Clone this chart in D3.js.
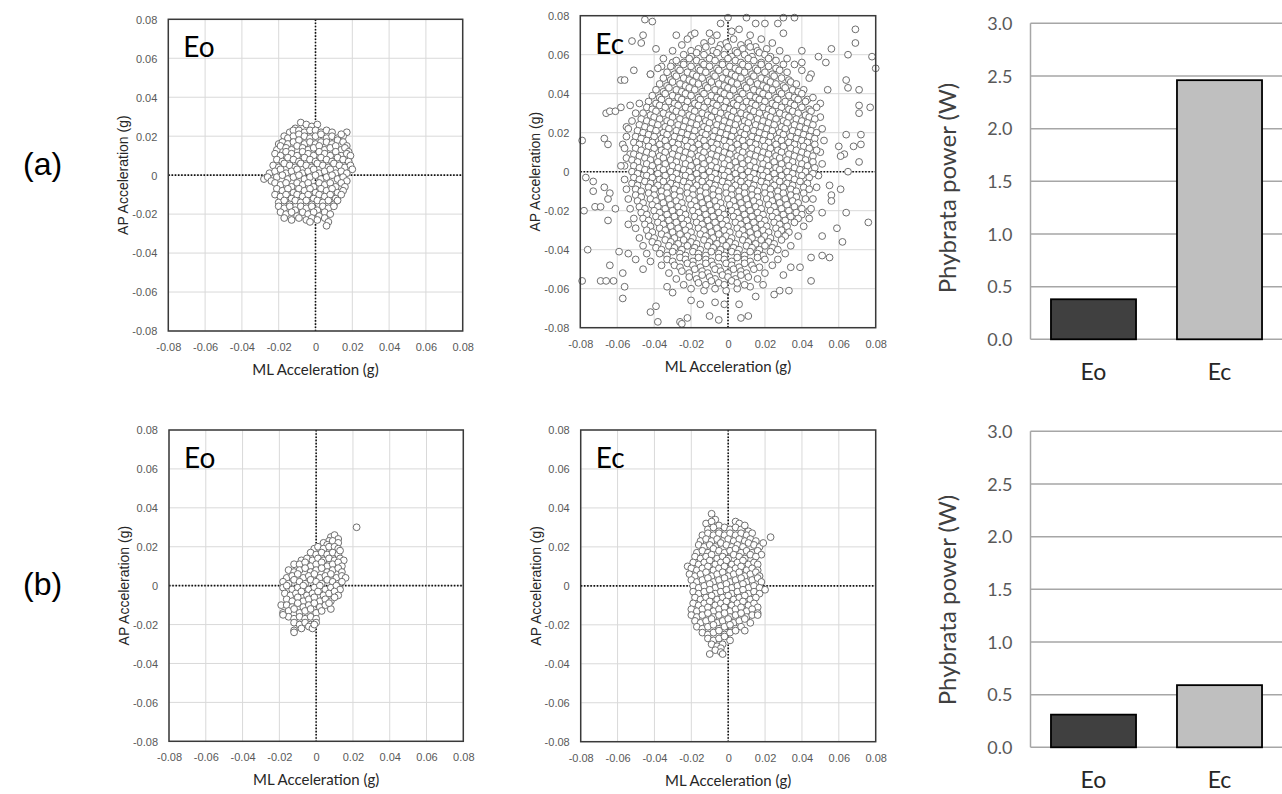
<!DOCTYPE html>
<html>
<head>
<meta charset="utf-8">
<script src="https://cdn.jsdelivr.net/npm/d3@7"></script>
<style>
  html, body { margin: 0; padding: 0; background: #fff; }
  svg { display: block; }
</style>
</head>
<body>
<svg id="fig" width="1282" height="794"></svg>
<script>
// ---- axis ticks ----
const accelTicks = [-0.08, -0.06, -0.04, -0.02, 0, 0.02, 0.04, 0.06, 0.08];
const accelTickLabels = ["-0.08", "-0.06", "-0.04", "-0.02", "0", "0.02", "0.04", "0.06", "0.08"];
const powerTicks = [0, 0.5, 1.0, 1.5, 2.0, 2.5, 3.0];
const powerTickLabels = ["0.0", "0.5", "1.0", "1.5", "2.0", "2.5", "3.0"];

// ---- phybrata power (W) per condition ----
const conditions = ["Eo", "Ec"];
const powerA = [0.38, 2.46];
const powerB = [0.31, 0.59];

// ---- sway samples, [ML, AP] in milli-g ----
const swayEoA = [
  [-8,27],[-5,26],[-2,25],[1,26],[-11,24],
  [-14,22],[-12,23],[-9,23],[-6,22],[-3,23],[0,23],[3,22],[6,23],[9,22],[17,22],[15,20],
  [-17,20],[-15,19],[-12,20],[-9,21],[-6,20],[-3,19],[0,20],[3,21],[6,19],[9,20],[12,19],[14,21],
  [-20,16],[-18,17],[-15,16],[-12,17],[-9,18],[-6,16],[-3,17],[0,16],[3,17],[6,17],[9,16],[12,18],[15,17],[17,15],
  [-21,13],[-19,15],[-16,14],[-13,13],[-10,15],[-7,14],[-4,13],[-1,14],[2,15],[5,13],[8,14],[11,15],[14,13],[16,14],[18,12],
  [-22,11],[-19,10],[-16,12],[-13,11],[-10,10],[-7,12],[-4,11],[-1,10],[2,12],[5,11],[8,10],[11,12],[14,10],[17,11],[19,10],
  [-21,8],[-18,7],[-15,9],[-12,8],[-9,7],[-6,9],[-3,8],[0,7],[3,9],[6,8],[9,7],[12,9],[15,8],[18,7],
  [-23,5],[-20,4],[-17,6],[-14,5],[-11,4],[-8,6],[-5,5],[-2,4],[1,6],[4,5],[7,4],[10,6],[13,5],[16,4],[19,5],[20,3],
  [-25,1],[-22,2],[-19,3],[-16,1],[-13,2],[-10,3],[-7,1],[-4,2],[-1,3],[2,1],[5,2],[8,3],[11,1],[14,2],[17,1],
  [-28,-2],[-26,-1],[-24,-3],[-21,-1],[-18,0],[-15,-2],[-12,-1],[-9,0],[-6,-2],[-3,-1],[0,0],[3,-2],[6,-1],[9,0],[12,-2],[15,-1],[17,-3],
  [-22,-4],[-19,-5],[-16,-4],[-13,-6],[-10,-4],[-7,-5],[-4,-4],[-1,-6],[2,-4],[5,-5],[8,-4],[11,-6],[14,-4],[16,-6],
  [-21,-7],[-18,-8],[-15,-7],[-12,-9],[-9,-7],[-6,-8],[-3,-7],[0,-9],[3,-7],[6,-8],[9,-7],[12,-9],[15,-8],
  [-22,-10],[-19,-11],[-16,-10],[-13,-12],[-10,-10],[-7,-11],[-4,-10],[-1,-12],[2,-10],[5,-11],[8,-10],[11,-12],[14,-10],
  [-20,-14],[-17,-13],[-14,-15],[-11,-13],[-8,-14],[-5,-13],[-2,-15],[1,-13],[4,-14],[7,-13],[10,-15],[12,-13],
  [-20,-16],[-17,-17],[-14,-16],[-11,-18],[-8,-16],[-5,-17],[-2,-16],[1,-18],[4,-16],[7,-17],[10,-16],
  [-19,-19],[-16,-20],[-13,-19],[-10,-21],[-7,-19],[-4,-20],[-1,-19],[2,-21],[5,-19],[8,-20],
  [-17,-22],[-13,-23],[-9,-22],[-5,-23],[-2,-22],[1,-23],[5,-22],[7,-24],
  [6,-26],[-3,-24]
];

const swayEcA = [
  // outer samples
  [-45,78],[-41,77],[-28,70],[-20,70],[-4,76],[0,79],[10,79],[15,76],[20,76],[27,76],[30,79],[36,79],[30,71],
  [-39,63],[-47,66],[-52,67],[-46,70],[-30,56],[-36,54],[69,73],[69,66],[65,60],[78,59],[80,53],[56,63],[49,59],[53,56],[40,62],[40,56],
  [-42,50],[-51,52],[-58,47],[-56,47],[-66,30],[-64,31],[-61,31],[-58,33],[-53,34],[-55,23],[-67,17],[-65,14],[-79,16],[-57,14],[-53,9],[-56,3],
  [-77,-3],[-73,-5],[-73,-10],[-67,-8],[-64,-11],[-72,-18],[-69,-18],[-78,-20],[-61,-19],[-65,-14],[-65,-25],[-54,-27],[-76,-40],[-59,-41],[-54,-42],
  [-79,-56],[-69,-56],[-66,-56],[-62,-56],[-64,-48],[-57,-52],[-57,-65],[-56,-59],[-50,-45],[-46,-50],[-42,-72],[-38,-77],[-39,-69],[-33,-59],[-30,-62],
  [-26,-77],[-25,-78],[-22,-75],[-20,-66],[-15,-68],[-10,-74],[-5,-76],[-7,-67],[-2,-68],[7,-75],[11,-74],[6,-68],[15,-64],[19,-58],[25,-63],[28,-61],[33,-61],
  [30,-53],[34,-49],[39,-49],[45,-56],[45,-44],[51,-43],[55,-44],[62,-36],[59,-29],[64,-21],[76,-26],[51,-33],
  [71,42],[65,43],[64,47],[77,33],[71,34],[71,30],[72,19],[72,14],[68,13],[71,5],[65,0],[63,9],[60,13],[61,8],[64,19],[55,-7],[56,-12],[56,-15],[61,-9],[51,-21],[44,-20],
  [54,42],[50,35],[45,50],[41,42],[43,37],
  // fringe
  [-25,65],[-30,62],[-35,58],[-22,68],[-18,71],[-10,71],[-6,70],[2,72],[6,73],[12,70],[18,68],[24,66],[28,62],[32,58],[36,55],[-38,53],[-42,50],[40,52],[44,48],
  [-48,35],[-50,30],[-52,26],[-54,22],[-55,18],[-56,12],[-55,7],[-58,3],[-56,-4],[-55,-9],[-54,-14],[-53,-19],[-51,-24],[-50,-29],[-48,-34],[-46,-38],[-44,-42],[-42,-46],
  [46,38],[48,33],[50,28],[51,22],[52,16],[50,10],[51,4],[49,-2],[48,-8],[46,-14],[45,-19],[44,-24],[41,-28],[38,-33],[34,-38],[31,-42],[27,-45],[24,-48],
  [-36,-48],[-32,-52],[-28,-55],[-24,-58],[-20,-60],[-13,-61],[-7,-60],[-1,-61],[5,-60],[12,-59],[16,-55],[20,-52],
  // central cloud
  [-13,66],[-9,67],[-4,65],[-1,66],[3,68],[7,65],[11,66],[15,64],
  [-20,62],[-16,63],[-12,64],[-8,62],[-5,63],[0,64],[4,62],[8,63],[12,64],[16,62],[21,63],
  [-24,60],[-20,59],[-17,61],[-13,60],[-9,59],[-6,61],[-2,60],[2,59],[5,61],[9,60],[13,59],[17,61],[20,60],[23,59],
  [-28,57],[-24,56],[-21,58],[-17,57],[-14,56],[-10,58],[-7,57],[-3,56],[0,58],[4,57],[7,56],[11,58],[14,57],[18,56],[22,58],[26,57],
  [-31,54],[-27,53],[-24,55],[-20,54],[-16,53],[-13,55],[-10,54],[-6,53],[-3,55],[1,54],[4,53],[8,55],[11,54],[15,53],[18,55],[22,54],[26,53],[30,55],
  [-33,51],[-29,50],[-26,52],[-22,51],[-19,50],[-15,52],[-12,51],[-8,50],[-5,52],[-1,51],[2,50],[6,52],[9,51],[13,50],[16,52],[20,51],[24,50],[28,52],[32,51],
  [-35,48],[-31,47],[-28,49],[-24,48],[-21,47],[-17,49],[-14,48],[-10,47],[-7,49],[-3,48],[0,47],[4,49],[7,48],[11,47],[14,49],[18,48],[21,47],[25,49],[29,48],[33,47],
  [-37,45],[-33,44],[-30,46],[-26,45],[-23,44],[-19,46],[-16,45],[-12,44],[-9,46],[-5,45],[-2,44],[2,46],[5,45],[9,44],[12,46],[16,45],[19,44],[23,46],[26,45],[30,44],[34,46],[37,45],
  [-39,42],[-35,41],[-32,43],[-28,42],[-25,41],[-21,43],[-18,42],[-14,41],[-11,43],[-7,42],[-4,41],[0,43],[3,42],[7,41],[10,43],[14,42],[17,41],[21,43],[24,42],[28,41],[31,43],[35,42],[38,41],
  [-41,39],[-37,38],[-34,40],[-30,39],[-27,38],[-23,40],[-20,39],[-16,38],[-13,40],[-9,39],[-6,38],[-2,40],[1,39],[5,38],[8,40],[12,39],[15,38],[19,40],[22,39],[26,38],[29,40],[33,39],[36,38],[40,40],
  [-43,36],[-39,35],[-36,37],[-32,36],[-29,35],[-25,37],[-22,36],[-18,35],[-15,37],[-11,36],[-8,35],[-4,37],[-1,36],[3,35],[6,37],[10,36],[13,35],[17,37],[20,36],[24,35],[27,37],[31,36],[34,35],[38,37],[42,36],
  [-44,33],[-41,32],[-37,34],[-34,33],[-30,32],[-27,34],[-23,33],[-20,32],[-16,34],[-13,33],[-9,32],[-6,34],[-2,33],[1,32],[5,34],[8,33],[12,32],[15,34],[19,33],[22,32],[26,34],[29,33],[33,32],[36,34],[40,33],[44,32],
  [-46,30],[-42,29],[-39,31],[-35,30],[-32,29],[-28,31],[-25,30],[-21,29],[-18,31],[-14,30],[-11,29],[-7,31],[-4,30],[0,29],[3,31],[7,30],[10,29],[14,31],[17,30],[21,29],[24,31],[28,30],[31,29],[35,31],[38,30],[42,29],[45,31],
  [-47,27],[-44,26],[-40,28],[-37,27],[-33,26],[-30,28],[-26,27],[-23,26],[-19,28],[-16,27],[-12,26],[-9,28],[-5,27],[-2,26],[2,28],[5,27],[9,26],[12,28],[16,27],[19,26],[23,28],[26,27],[30,26],[33,28],[37,27],[40,26],[44,28],[47,27],
  [-48,24],[-45,23],[-41,25],[-38,24],[-34,23],[-31,25],[-27,24],[-24,23],[-20,25],[-17,24],[-13,23],[-10,25],[-6,24],[-3,23],[1,25],[4,24],[8,23],[11,25],[15,24],[18,23],[22,25],[25,24],[29,23],[32,25],[36,24],[39,23],[43,25],[46,24],
  [-49,21],[-46,20],[-42,22],[-39,21],[-35,20],[-32,22],[-28,21],[-25,20],[-21,22],[-18,21],[-14,20],[-11,22],[-7,21],[-4,20],[0,22],[3,21],[7,20],[10,22],[14,21],[17,20],[21,22],[24,21],[28,20],[31,22],[35,21],[38,20],[42,22],[45,21],[48,20],
  [-50,18],[-47,17],[-43,19],[-40,18],[-36,17],[-33,19],[-29,18],[-26,17],[-22,19],[-19,18],[-15,17],[-12,19],[-8,18],[-5,17],[-1,19],[2,18],[6,17],[9,19],[13,18],[16,17],[20,19],[23,18],[27,17],[30,19],[34,18],[37,17],[41,19],[44,18],[47,17],
  [-51,15],[-48,14],[-44,16],[-41,15],[-37,14],[-34,16],[-30,15],[-27,14],[-23,16],[-20,15],[-16,14],[-13,16],[-9,15],[-6,14],[-2,16],[1,15],[5,14],[8,16],[12,15],[15,14],[19,16],[22,15],[26,14],[29,16],[33,15],[36,14],[40,16],[43,15],[47,14],
  [-50,12],[-47,11],[-43,13],[-40,12],[-36,11],[-33,13],[-29,12],[-26,11],[-22,13],[-19,12],[-15,11],[-12,13],[-8,12],[-5,11],[-1,13],[2,12],[6,11],[9,13],[13,12],[16,11],[20,13],[23,12],[27,11],[30,13],[34,12],[37,11],[41,13],[44,12],[48,11],
  [-51,9],[-48,8],[-44,10],[-41,9],[-37,8],[-34,10],[-30,9],[-27,8],[-23,10],[-20,9],[-16,8],[-13,10],[-9,9],[-6,8],[-2,10],[1,9],[5,8],[8,10],[12,9],[15,8],[19,10],[22,9],[26,8],[29,10],[33,9],[36,8],[40,10],[43,9],[46,8],
  [-52,6],[-49,5],[-45,7],[-42,6],[-38,5],[-35,7],[-31,6],[-28,5],[-24,7],[-21,6],[-17,5],[-14,7],[-10,6],[-7,5],[-3,7],[0,6],[4,5],[7,7],[11,6],[14,5],[18,7],[21,6],[25,5],[28,7],[32,6],[35,5],[39,7],[42,6],[46,5],
  [-51,3],[-48,2],[-44,4],[-41,3],[-37,2],[-34,4],[-30,3],[-27,2],[-23,4],[-20,3],[-16,2],[-13,4],[-9,3],[-6,2],[-2,4],[1,3],[5,2],[8,4],[12,3],[15,2],[19,4],[22,3],[26,2],[29,4],[33,3],[36,2],[40,4],[43,3],[47,2],
  [-52,0],[-49,-1],[-45,1],[-42,0],[-38,-1],[-35,1],[-31,0],[-28,-1],[-24,1],[-21,0],[-17,-1],[-14,1],[-10,0],[-7,-1],[-3,1],[0,0],[4,-1],[7,1],[11,0],[14,-1],[18,1],[21,0],[25,-1],[28,1],[32,0],[35,-1],[39,1],[42,0],[46,-1],
  [-51,-3],[-48,-4],[-44,-2],[-41,-3],[-37,-4],[-34,-2],[-30,-3],[-27,-4],[-23,-2],[-20,-3],[-16,-4],[-13,-2],[-9,-3],[-6,-4],[-2,-2],[1,-3],[5,-4],[8,-2],[12,-3],[15,-4],[19,-2],[22,-3],[26,-4],[29,-2],[33,-3],[36,-4],[40,-2],[44,-3],
  [-52,-6],[-49,-7],[-45,-5],[-42,-6],[-38,-7],[-35,-5],[-31,-6],[-28,-7],[-24,-5],[-21,-6],[-17,-7],[-14,-5],[-10,-6],[-7,-7],[-3,-5],[0,-6],[4,-7],[7,-5],[11,-6],[14,-7],[18,-5],[21,-6],[25,-7],[28,-5],[32,-6],[35,-7],[39,-5],[43,-6],
  [-50,-9],[-47,-10],[-43,-8],[-40,-9],[-36,-10],[-33,-8],[-29,-9],[-26,-10],[-22,-8],[-19,-9],[-15,-10],[-12,-8],[-8,-9],[-5,-10],[-1,-8],[2,-9],[6,-10],[9,-8],[13,-9],[16,-10],[20,-8],[23,-9],[27,-10],[30,-8],[34,-9],[37,-10],[41,-8],[44,-9],
  [-50,-12],[-47,-13],[-43,-11],[-40,-12],[-36,-13],[-33,-11],[-29,-12],[-26,-13],[-22,-11],[-19,-12],[-15,-13],[-12,-11],[-8,-12],[-5,-13],[-1,-11],[2,-12],[6,-13],[9,-11],[13,-12],[16,-13],[20,-11],[23,-12],[27,-13],[30,-11],[34,-12],[37,-13],[41,-11],
  [-49,-15],[-46,-16],[-42,-14],[-39,-15],[-35,-16],[-32,-14],[-28,-15],[-25,-16],[-21,-14],[-18,-15],[-14,-16],[-11,-14],[-7,-15],[-4,-16],[0,-14],[3,-15],[7,-16],[10,-14],[14,-15],[17,-16],[21,-14],[24,-15],[28,-16],[31,-14],[35,-15],[38,-16],[42,-14],
  [-48,-18],[-45,-19],[-41,-17],[-38,-18],[-34,-19],[-31,-17],[-27,-18],[-24,-19],[-20,-17],[-17,-18],[-13,-19],[-10,-17],[-6,-18],[-3,-19],[1,-17],[4,-18],[8,-19],[11,-17],[15,-18],[18,-19],[22,-17],[25,-18],[29,-19],[32,-17],[36,-18],[40,-19],
  [-47,-21],[-44,-22],[-40,-20],[-37,-21],[-33,-22],[-30,-20],[-26,-21],[-23,-22],[-19,-20],[-16,-21],[-12,-22],[-9,-20],[-5,-21],[-2,-22],[2,-20],[5,-21],[9,-22],[12,-20],[16,-21],[19,-22],[23,-20],[26,-21],[30,-22],[33,-20],[37,-21],[40,-22],
  [-46,-24],[-43,-25],[-39,-23],[-36,-24],[-32,-25],[-29,-23],[-25,-24],[-22,-25],[-18,-23],[-15,-24],[-11,-25],[-8,-23],[-4,-24],[-1,-25],[3,-23],[6,-24],[10,-25],[13,-23],[17,-24],[20,-25],[24,-23],[27,-24],[31,-25],[34,-23],[38,-24],
  [-45,-27],[-42,-28],[-38,-26],[-35,-27],[-31,-28],[-28,-26],[-24,-27],[-21,-28],[-17,-26],[-14,-27],[-10,-28],[-7,-26],[-3,-27],[0,-28],[4,-26],[7,-27],[11,-28],[14,-26],[18,-27],[21,-28],[25,-26],[28,-27],[32,-28],[36,-26],
  [-44,-30],[-41,-31],[-37,-29],[-34,-30],[-30,-31],[-27,-29],[-23,-30],[-20,-31],[-16,-29],[-13,-30],[-9,-31],[-6,-29],[-2,-30],[1,-31],[5,-29],[8,-30],[12,-31],[15,-29],[19,-30],[22,-31],[26,-29],[29,-30],[33,-31],
  [-43,-33],[-40,-34],[-36,-32],[-33,-33],[-29,-34],[-26,-32],[-22,-33],[-19,-34],[-15,-32],[-12,-33],[-8,-34],[-5,-32],[-1,-33],[2,-34],[6,-32],[9,-33],[13,-34],[16,-32],[20,-33],[23,-34],[27,-32],[31,-33],
  [-41,-36],[-38,-37],[-34,-35],[-31,-36],[-27,-37],[-24,-35],[-20,-36],[-17,-37],[-13,-35],[-10,-36],[-6,-37],[-3,-35],[1,-36],[4,-37],[8,-35],[11,-36],[15,-37],[18,-35],[22,-36],[25,-37],[29,-35],
  [-39,-39],[-36,-40],[-32,-38],[-29,-39],[-25,-40],[-22,-38],[-18,-39],[-15,-40],[-11,-38],[-8,-39],[-4,-40],[-1,-38],[3,-39],[6,-40],[10,-38],[13,-39],[17,-40],[20,-38],[24,-39],[27,-40],
  [-37,-42],[-33,-43],[-30,-41],[-26,-42],[-23,-43],[-19,-41],[-16,-42],[-12,-43],[-9,-41],[-5,-42],[-2,-43],[2,-41],[5,-42],[9,-43],[12,-41],[16,-42],[19,-43],[23,-41],
  [-33,-45],[-30,-46],[-26,-44],[-23,-45],[-19,-46],[-16,-44],[-12,-45],[-9,-46],[-5,-44],[-2,-45],[2,-46],[5,-44],[9,-45],[12,-46],[16,-44],[20,-45],
  [-29,-48],[-26,-49],[-22,-47],[-19,-48],[-15,-49],[-12,-47],[-8,-48],[-5,-49],[-1,-47],[2,-48],[6,-49],[9,-47],[13,-48],[17,-49],
  [-25,-51],[-21,-52],[-18,-50],[-14,-51],[-11,-52],[-7,-50],[-4,-51],[0,-52],[3,-50],[7,-51],[10,-52],[14,-50],
  [-21,-54],[-17,-55],[-14,-53],[-10,-54],[-7,-55],[-3,-53],[0,-54],[4,-55],[7,-53],[11,-54],
  [-16,-57],[-12,-58],[-9,-56],[-5,-57],[-2,-58],[2,-56],[5,-57],[9,-58]
];

const swayEoB = [
  [22,30],
  [8,25],[10,26],[12,24],[7,23],
  [4,22],[6,21],[9,23],[12,22],
  [-1,19],[1,20],[4,19],[7,20],[10,20],[12,19],
  [-3,17],[0,16],[3,17],[6,16],[9,17],[12,16],[13,18],
  [-8,13],[-5,14],[-2,13],[1,14],[4,13],[7,14],[10,13],[13,14],[15,13],
  [-12,11],[-9,11],[-6,12],[-3,10],[0,11],[3,12],[6,10],[9,11],[12,12],[14,10],
  [-15,8],[-12,7],[-9,8],[-6,9],[-3,7],[0,8],[3,9],[6,7],[9,8],[12,9],[14,7],
  [-16,4],[-13,5],[-10,6],[-7,4],[-4,5],[-1,6],[2,4],[5,5],[8,6],[11,4],[14,5],[16,4],
  [-18,2],[-15,1],[-12,3],[-9,2],[-6,1],[-3,3],[0,2],[3,1],[6,3],[9,2],[12,1],[14,2],
  [-18,-1],[-16,0],[-13,-2],[-10,-1],[-7,0],[-4,-2],[-1,-1],[2,0],[5,-2],[8,-1],[11,0],[13,-2],
  [-17,-4],[-14,-5],[-11,-4],[-8,-3],[-5,-5],[-2,-4],[1,-3],[4,-5],[7,-4],[10,-3],[12,-5],
  [-16,-7],[-13,-8],[-10,-6],[-7,-8],[-4,-7],[-1,-6],[2,-8],[5,-7],[8,-8],[10,-6],
  [-19,-10],[-16,-10],[-13,-11],[-10,-9],[-7,-11],[-4,-10],[-1,-9],[2,-11],[5,-10],[8,-12],[7,-9],
  [-18,-14],[-15,-13],[-12,-12],[-9,-14],[-6,-13],[-3,-12],[0,-14],[3,-13],
  [-15,-16],[-12,-17],[-9,-16],[-6,-17],[-3,-16],[0,-17],[-18,-15],
  [-12,-19],[-9,-20],[-6,-19],[-3,-20],[0,-19],
  [-12,-23],[-12,-24],[-8,-22],[-4,-21],[-2,-22],[-1,-20]
];

const swayEcB = [
  [23,25],
  [-9,37],[-7,34],
  [-12,32],[-9,33],[-5,31],[4,33],[6,32],
  [-11,29],[-8,30],[-5,28],[-2,30],[1,29],[4,30],[7,29],[9,31],[11,28],
  [-14,26],[-11,27],[-8,26],[-5,27],[-2,26],[1,27],[4,26],[7,27],[10,26],[13,27],
  [-15,23],[-12,24],[-9,23],[-6,24],[-3,23],[0,24],[3,23],[6,24],[9,23],[12,24],[15,23],
  [-16,21],[-13,20],[-10,21],[-7,20],[-4,22],[-1,21],[2,20],[5,21],[8,20],[11,22],[14,21],[17,20],[19,22],
  [-17,17],[-14,18],[-11,17],[-8,19],[-5,18],[-2,17],[1,18],[4,19],[7,17],[10,18],[13,17],[16,18],[18,16],
  [-18,15],[-15,14],[-12,15],[-9,16],[-6,14],[-3,15],[0,14],[3,16],[6,15],[9,14],[12,16],[15,15],
  [-19,12],[-16,11],[-13,12],[-10,13],[-7,11],[-4,12],[-1,13],[2,11],[5,12],[8,13],[11,11],[14,12],[16,11],
  [-22,10],[-20,9],[-17,8],[-14,9],[-11,10],[-8,8],[-5,9],[-2,10],[1,8],[4,9],[7,10],[10,8],[13,9],[16,8],
  [-21,6],[-18,5],[-15,6],[-12,7],[-9,5],[-6,6],[-3,7],[0,5],[3,6],[6,7],[9,5],[12,6],[15,7],[17,5],
  [-20,3],[-17,2],[-14,3],[-11,4],[-8,2],[-5,3],[-2,4],[1,2],[4,3],[7,4],[10,2],[13,3],[16,4],[18,2],
  [-19,0],[-16,-1],[-13,0],[-10,1],[-7,-1],[-4,0],[-1,1],[2,-1],[5,0],[8,1],[11,-1],[14,0],[17,-1],[20,-2],
  [-19,-3],[-16,-4],[-13,-3],[-10,-2],[-7,-4],[-4,-3],[-1,-2],[2,-4],[5,-3],[8,-2],[11,-4],[14,-3],[17,-4],
  [-18,-6],[-15,-7],[-12,-6],[-9,-5],[-6,-7],[-3,-6],[0,-5],[3,-7],[6,-6],[9,-5],[12,-7],[15,-6],
  [-19,-9],[-16,-10],[-13,-9],[-10,-8],[-7,-10],[-4,-9],[-1,-8],[2,-10],[5,-9],[8,-8],[11,-10],[14,-9],[16,-11],
  [-20,-12],[-17,-13],[-14,-12],[-11,-11],[-8,-13],[-5,-12],[-2,-11],[1,-13],[4,-12],[7,-11],[10,-13],[13,-12],[16,-14],
  [-20,-15],[-17,-16],[-14,-15],[-11,-14],[-8,-16],[-5,-15],[-2,-14],[1,-16],[4,-15],[7,-14],[10,-16],[13,-15],[16,-15],
  [-18,-18],[-15,-19],[-12,-18],[-9,-17],[-6,-19],[-3,-18],[0,-17],[3,-19],[6,-18],[9,-17],[12,-19],
  [-17,-21],[-14,-22],[-11,-21],[-8,-20],[-5,-22],[-2,-21],[1,-20],[4,-22],[7,-21],[9,-23],
  [-14,-24],[-11,-25],[-8,-24],[-5,-23],[-2,-25],[1,-24],[4,-23],
  [-11,-27],[-8,-28],[-5,-27],[-2,-26],[1,-28],
  [-9,-30],[-6,-31],[-3,-30],[-4,-32],
  [-10,-35],[-7,-33],[-4,-34],[-3,-35]
];

// ---- drawing ----
const svg = d3.select("#fig");
const SANS = "'Liberation Sans', Arial, sans-serif";
const HUM = "Lato, 'Open Sans', sans-serif";

function scatterPanel(box, samples, tag) {
  const x = d3.scaleLinear().domain([-0.08, 0.08]).range([box.x0, box.x1]);
  const y = d3.scaleLinear().domain([-0.08, 0.08]).range([box.y1, box.y0]);
  const g = svg.append("g");

  // grid
  g.append("g").selectAll("line").data(accelTicks).join("line")
    .attr("x1", d => x(d)).attr("x2", d => x(d))
    .attr("y1", box.y0).attr("y2", box.y1)
    .attr("stroke", "#d9d9d9").attr("stroke-width", 1);
  g.append("g").selectAll("line").data(accelTicks).join("line")
    .attr("y1", d => y(d)).attr("y2", d => y(d))
    .attr("x1", box.x0).attr("x2", box.x1)
    .attr("stroke", "#d9d9d9").attr("stroke-width", 1);

  // zero reference lines
  g.append("line").attr("x1", x(0)).attr("x2", x(0)).attr("y1", box.y0).attr("y2", box.y1)
    .attr("stroke", "#111").attr("stroke-width", 1.6).attr("stroke-dasharray", "1.6,1.6");
  g.append("line").attr("y1", y(0)).attr("y2", y(0)).attr("x1", box.x0).attr("x2", box.x1)
    .attr("stroke", "#111").attr("stroke-width", 1.6).attr("stroke-dasharray", "1.6,1.6");

  // samples
  g.append("g").selectAll("circle").data(samples).join("circle")
    .attr("cx", d => x(d[0] / 1000)).attr("cy", d => y(d[1] / 1000))
    .attr("r", 3.4)
    .attr("fill", "#ffffff").attr("stroke", "#6e6e6e").attr("stroke-width", 1);

  // frame
  g.append("rect").attr("x", box.x0).attr("y", box.y0)
    .attr("width", box.x1 - box.x0).attr("height", box.y1 - box.y0)
    .attr("fill", "none").attr("stroke", "#3a3a3a").attr("stroke-width", 1.5);

  // tick labels
  const xAxis = d3.axisBottom(x).tickValues(accelTicks)
    .tickFormat((d, i) => accelTickLabels[i]).tickSize(0).tickPadding(0);
  const xa = g.append("g").attr("transform", `translate(0,${box.y1})`).call(xAxis);
  xa.select(".domain").remove();
  xa.selectAll("text").attr("y", 20).attr("dy", null)
    .attr("font-family", SANS).attr("font-size", 11).attr("fill", "#595959");

  const yAxis = d3.axisLeft(y).tickValues(accelTicks)
    .tickFormat((d, i) => accelTickLabels[i]).tickSize(0).tickPadding(0);
  const ya = g.append("g").attr("transform", `translate(${box.x0},0)`).call(yAxis);
  ya.select(".domain").remove();
  ya.selectAll("text").attr("x", -11).attr("dy", "0.35em")
    .attr("font-family", SANS).attr("font-size", 11).attr("fill", "#595959");

  // axis titles
  g.append("text").attr("x", (box.x0 + box.x1) / 2).attr("y", box.y1 + 44)
    .attr("text-anchor", "middle").attr("font-family", HUM).attr("font-size", 15)
    .attr("fill", "#262626").text("ML Acceleration (g)");
  g.append("text")
    .attr("transform", `translate(${box.x0 - 45},${(box.y0 + box.y1) / 2}) rotate(-90)`)
    .attr("text-anchor", "middle").attr("dy", "0.35em")
    .attr("font-family", SANS).attr("font-size", 14)
    .attr("fill", "#262626").text("AP Acceleration (g)");

  // condition tag
  g.append("text").attr("x", box.x0 + 15).attr("y", box.y0 + 38)
    .attr("font-family", HUM).attr("font-size", 28).attr("fill", "#000").text(tag);
}

function barPanel(box, values, titleY) {
  const x = d3.scaleBand().domain(conditions).range([box.x0, box.x1])
    .paddingInner(0.325).paddingOuter(0.1625);
  const y = d3.scaleLinear().domain([0, 3]).range([box.y1, box.y0]);
  const g = svg.append("g");

  g.append("g").selectAll("line").data(powerTicks).join("line")
    .attr("x1", box.x0).attr("x2", box.x1 + 2)
    .attr("y1", d => y(d)).attr("y2", d => y(d))
    .attr("stroke", "#a6a6a6").attr("stroke-width", 1.5);
  g.append("line").attr("x1", box.x0).attr("x2", box.x0)
    .attr("y1", box.y0).attr("y2", box.y1)
    .attr("stroke", "#a6a6a6").attr("stroke-width", 1.5);

  const fills = ["#404040", "#bfbfbf"];
  g.append("g").selectAll("rect").data(values).join("rect")
    .attr("x", (d, i) => x(conditions[i]))
    .attr("y", d => y(d))
    .attr("width", x.bandwidth())
    .attr("height", d => y(0) - y(d))
    .attr("fill", (d, i) => fills[i])
    .attr("stroke", "#000").attr("stroke-width", 1.8);

  const yAxis = d3.axisLeft(y).tickValues(powerTicks)
    .tickFormat((d, i) => powerTickLabels[i]).tickSize(0).tickPadding(0);
  const ya = g.append("g").attr("transform", `translate(${box.x0},0)`).call(yAxis);
  ya.select(".domain").remove();
  ya.selectAll("text").attr("x", -18).attr("dy", "0.35em")
    .attr("font-family", HUM).attr("font-size", 18).attr("fill", "#595959");

  const xAxis = d3.axisBottom(x).tickSize(0).tickPadding(0);
  const xa = g.append("g").attr("transform", `translate(0,${box.y1})`).call(xAxis);
  xa.select(".domain").remove();
  xa.selectAll("text").attr("y", 41).attr("dy", null)
    .attr("font-family", HUM).attr("font-size", 23).attr("fill", "#262626");

  g.append("text")
    .attr("transform", `translate(948,${titleY}) rotate(-90)`)
    .attr("text-anchor", "middle").attr("dy", "0.35em")
    .attr("font-family", HUM).attr("font-size", 24).attr("fill", "#404040")
    .text("Phybrata power (W)");
}

scatterPanel({ x0: 168.3, x1: 462.7, y0: 19.3, y1: 331 }, swayEoA, "Eo");
scatterPanel({ x0: 580.3, x1: 875.7, y0: 15.7, y1: 327.7 }, swayEcA, "Ec");
scatterPanel({ x0: 169, x1: 463.3, y0: 430, y1: 741.3 }, swayEoB, "Eo");
scatterPanel({ x0: 580.7, x1: 875.7, y0: 430, y1: 741.7 }, swayEcB, "Ec");

barPanel({ x0: 1030.5, x1: 1282.5, y0: 23.3, y1: 339.3 }, powerA, 188);
barPanel({ x0: 1030.5, x1: 1282.5, y0: 431.3, y1: 747.3 }, powerB, 600);

// row labels
svg.append("text").attr("x", 23).attr("y", 175).attr("font-family", SANS)
  .attr("font-size", 32).attr("fill", "#000").text("(a)");
svg.append("text").attr("x", 23).attr("y", 595).attr("font-family", SANS)
  .attr("font-size", 32).attr("fill", "#000").text("(b)");
</script>
</body>
</html>
